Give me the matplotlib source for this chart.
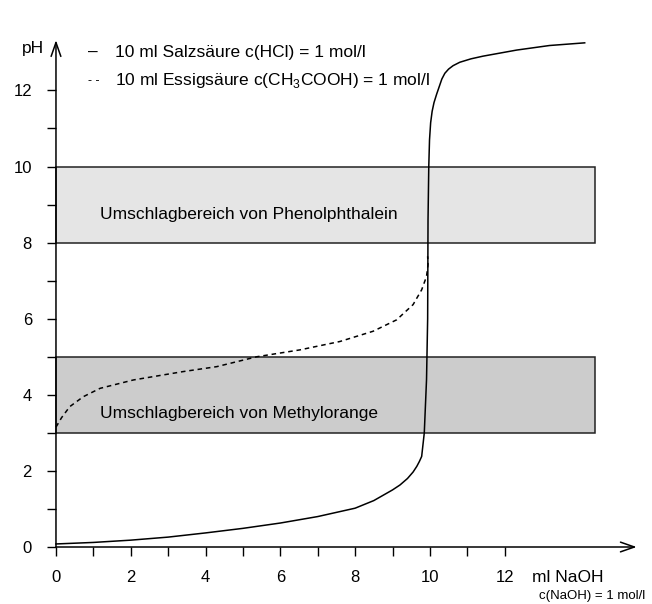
import matplotlib
matplotlib.use("Agg")
import matplotlib.pyplot as plt
from matplotlib.patches import Rectangle

plt.rcParams['font.family'] = ['Liberation Sans', 'DejaVu Sans']
plt.rcParams['mathtext.fontset'] = 'custom'
plt.rcParams['mathtext.rm'] = 'Liberation Sans'

# Salzsaeure (HCl) titration curve (ml NaOH, pH)
hcl_ml = [0, 1, 2, 3, 4, 5, 6, 7, 8, 8.5, 9, 9.2, 9.4, 9.55, 9.65, 9.72, 9.78,
          9.85, 9.91, 9.94, 9.95, 9.97, 9.99, 10.02, 10.06, 10.11, 10.18, 10.25, 10.32, 10.4,
          10.5, 10.62, 10.8, 11.1, 11.42, 12.32, 13.2, 14.14]
hcl_ph = [0.08, 0.12, 0.18, 0.26, 0.37, 0.49, 0.63, 0.8, 1.02, 1.22, 1.5, 1.63, 1.8, 1.97, 2.12, 2.25, 2.38,
          3.0, 4.4, 6.0, 8.6, 10.0, 10.7, 11.15, 11.45, 11.68, 11.9, 12.1, 12.3, 12.45,
          12.56, 12.65, 12.74, 12.83, 12.9, 13.06, 13.18, 13.25]

# Essigsaeure (CH3COOH) titration curve
hac_ml = [0, 0.15, 0.37, 0.73, 1.18, 2.07, 3.4, 4.3, 5.37, 6.52, 7.59,
          8.48, 9.11, 9.55, 9.78, 9.91, 9.95, 9.94]
hac_ph = [3.15, 3.4, 3.69, 3.95, 4.17, 4.39, 4.61, 4.74, 5.0, 5.18, 5.4,
          5.67, 5.97, 6.37, 6.76, 7.11, 7.42, 7.64]

# Umschlagbereiche (pH range) of the indicators
indicators = ["Umschlagbereich von Phenolphthalein", "Umschlagbereich von Methylorange"]
ind_low = [8, 3]
ind_high = [10, 5]
ind_text_y = [8.75, 3.52]
ind_colors = ["#e5e5e5", "#cccccc"]

x_major = [0, 2, 4, 6, 8, 10, 12]
x_minor = [1, 3, 5, 7, 9, 11]
y_major = [0, 2, 4, 6, 8, 10, 12]
y_minor = [1, 3, 5, 7, 9, 11]

fig = plt.figure(figsize=(6.52, 6.04), dpi=100)
ax = fig.add_axes([0, 0, 1, 1])
ax.set_xlim(-1.497, 15.94)
ax.set_ylim(-1.498, 14.376)

# indicator boxes
box_right = 14.41
for name, lo, hi, ty, col in zip(indicators, ind_low, ind_high, ind_text_y, ind_colors):
    ax.add_patch(Rectangle((0, lo), box_right, hi - lo, facecolor=col,
                           edgecolor="#222222", linewidth=1.1, zorder=1))
    ax.text(1.18, ty, name, fontsize=12.5, va="center", ha="left", zorder=2)

# curves
ax.plot(hcl_ml, hcl_ph, color="black", linewidth=1.1, zorder=3)
ax.plot(hac_ml, hac_ph, color="black", linewidth=1.1, linestyle=(0, (3, 2.5)), zorder=3)

# axes through origin
for side in ["top", "right", "left", "bottom"]:
    ax.spines[side].set_color("none")
ax.spines["left"].set_position(("data", 0))
ax.spines["bottom"].set_position(("data", 0))
ax.annotate("", xy=(0, 13.32), xytext=(0, 0),
            arrowprops=dict(arrowstyle="->,head_length=1.0,head_width=0.35", color="black", lw=1.1,
                            shrinkA=0, shrinkB=0))
ax.annotate("", xy=(15.53, 0), xytext=(0, 0),
            arrowprops=dict(arrowstyle="->,head_length=1.0,head_width=0.35", color="black", lw=1.1,
                            shrinkA=0, shrinkB=0))

ax.set_xticks(x_major)
ax.set_xticks(x_minor, minor=True)
ax.set_yticks(y_major)
ax.set_yticks(y_minor, minor=True)
ax.tick_params(which="both", direction="out", length=6.3, width=1.0, color="black")
ax.tick_params(axis="y", labelsize=12, pad=11)
ax.tick_params(axis="x", labelsize=12, pad=10)

# axis labels
ax.text(-0.62, 13.1, "pH", fontsize=12.5, ha="center", va="center")
ax.text(12.72, -0.79, "ml NaOH", fontsize=12.5, ha="left", va="center")
ax.text(15.75, -1.3, "c(NaOH) = 1 mol/l", fontsize=9.5, ha="right", va="center")

# legend text
ax.text(0.85, 13.0, "\u2013", fontsize=12.5, ha="left", va="center")
ax.text(1.58, 13.0, "10 ml Salzs\u00e4ure c(HCl) = 1 mol/l", fontsize=12.5, ha="left", va="center")
ax.text(0.85, 12.25, "- -", fontsize=9, ha="left", va="center")
ax.text(1.58, 12.25, "10 ml Essigs\u00e4ure c(CH$_\\mathregular{3}$COOH) = 1 mol/l", fontsize=12.5,
        ha="left", va="center")

fig.savefig("out.png", dpi=100)
